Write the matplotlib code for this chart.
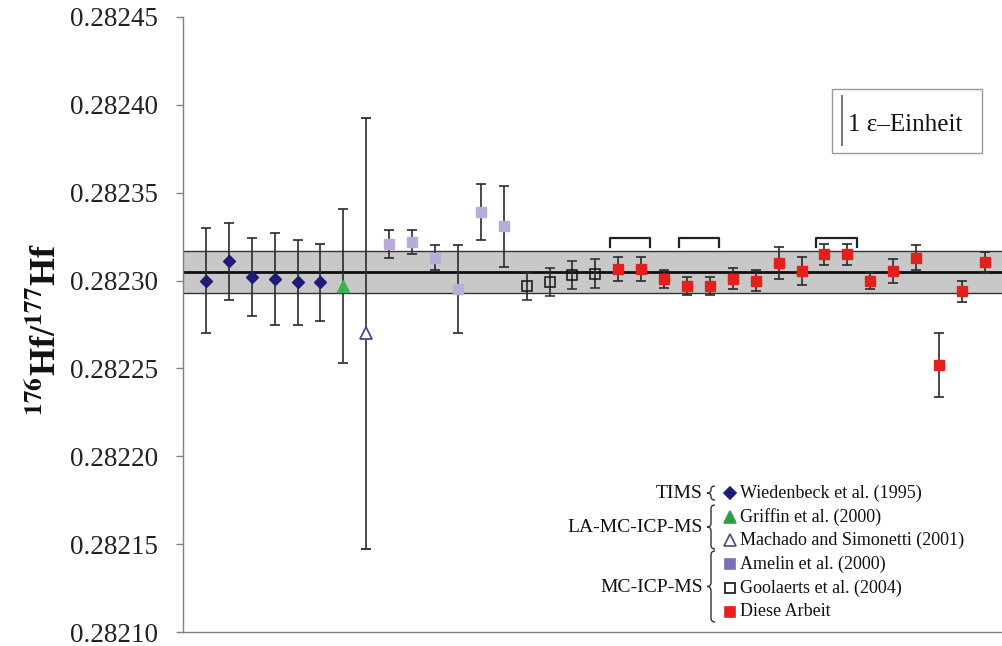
import numpy as np
import matplotlib
matplotlib.use("Agg")
import matplotlib.pyplot as plt
from matplotlib.path import Path
from matplotlib.patches import PathPatch, Rectangle
from matplotlib.lines import Line2D
from matplotlib.transforms import Affine2D

plt.rcParams['font.family'] = ['Liberation Serif', 'DejaVu Serif']
plt.rcParams['mathtext.fontset'] = 'stix'

# data
wied_y = [0.282300, 0.282311, 0.282302, 0.282301, 0.282299, 0.282299]
wied_err = [0.000030, 0.000022, 0.000022, 0.000026, 0.000024, 0.000022]
griffin_y = [0.282297]
griffin_err = [0.000044]
machado_y = [0.282270]
machado_err = [0.0001225]
amelin_y = [0.282321, 0.282322, 0.282313, 0.282295, 0.282339, 0.282331]
amelin_err = [0.000008, 0.000007, 0.000007, 0.000025, 0.000016, 0.000023]
goolaerts_y = [0.282297, 0.282299, 0.282303, 0.282304]
goolaerts_err = [0.000008, 0.000008, 0.000008, 0.000008]
diese_y = [0.2823065, 0.2823065, 0.282301, 0.282297, 0.282297, 0.282301,
           0.282300, 0.282310, 0.2823055, 0.282315, 0.282315, 0.282300,
           0.2823055, 0.282313, 0.282252, 0.282294, 0.2823105]
diese_err = [0.000007, 0.000007, 0.000005, 0.000005, 0.000005, 0.000006,
             0.000006, 0.000009, 0.000008, 0.000006, 0.000006, 0.000005,
             0.000007, 0.000007, 0.000018, 0.000006, 0.000006]

mean_val = 0.282305
band_lo = 0.282293
band_hi = 0.282317
bracket_pairs = [(0, 1), (3, 4), (9, 10)]
bracket_top = 0.2823245
bracket_leg = 0.2823193
eps_unit = mean_val * 1e-4
y_ticks = [0.28210, 0.28215, 0.28220, 0.28225, 0.28230, 0.28235, 0.28240, 0.28245]

W, H = 1002, 646
fig = plt.figure(figsize=(W / 100, H / 100), dpi=100)
ax = fig.add_axes([183 / W, 14 / H, 1 - 183 / W, (632 - 17) / H])
# pixel coords of the image -> figure
pix = Affine2D().scale(1 / W, -1 / H).translate(0, 1) + fig.transFigure

groups = [wied_y, griffin_y, machado_y, amelin_y, goolaerts_y, diese_y]
xs = []
start = 1
for g in groups:
    xs.append(np.arange(start, start + len(g)))
    start += len(g)
x_w, x_g, x_m, x_a, x_go, x_d = xs

ax.set_xlim(0, 35.75)
ax.set_ylim(0.28210, 0.28245)

# mean and band
ax.axhspan(band_lo, band_hi, facecolor='#c8c8c8', edgecolor='none', zorder=0)
ax.axhline(band_lo, color='#333333', lw=1.0, zorder=1)
ax.axhline(band_hi, color='#333333', lw=1.0, zorder=1)
ax.axhline(mean_val, color='#111111', lw=2.0, zorder=1)

eb = dict(ls='none', ecolor='#2a2a2a', elinewidth=1.2, capsize=3.6, capthick=1.2, zorder=3)
ax.errorbar(x_w, wied_y, yerr=wied_err, marker='D', ms=6.5, mfc='#1f1b78', mec='#1f1b78', **eb)
ax.errorbar(x_g, griffin_y, yerr=griffin_err, marker='^', ms=8, mfc='#3db34a', mec='#3db34a', **eb)
ax.errorbar(x_m, machado_y, yerr=machado_err, marker='^', ms=8, mfc='white', mec='#4a4a88', mew=1.3, **eb)
ax.errorbar(x_a, amelin_y, yerr=amelin_err, marker='s', ms=7.5, mfc='#b9acd9', mec='#b9acd9', **eb)
ax.errorbar(x_go, goolaerts_y, yerr=goolaerts_err, marker='s', ms=7, mfc='none', mec='#111111', mew=1.1, **eb)
ax.errorbar(x_d, diese_y, yerr=diese_err, marker='s', ms=7, mfc='#e3201c', mec='#e3201c', **eb)

# brackets over repeated measurements
for i, j in bracket_pairs:
    xa, xb = x_d[i] - 0.35, x_d[j] + 0.4
    ax.plot([xa, xa, xb, xb], [bracket_leg, bracket_top, bracket_top, bracket_leg],
            color='#222222', lw=1.6, zorder=3)

# 1 epsilon scale box
ax.add_patch(Rectangle((832, 89), 150, 64, transform=pix, fill=False,
                       edgecolor='#9a9a9a', lw=1.0, clip_on=False))
ax.plot([28.75, 28.75], [0.282377, 0.282377 + eps_unit], color='#777777', lw=1.4)
fig.text(848 / W, 1 - 125 / H, '1 ε–Einheit', fontsize=18, va='center', ha='left', color='#111111')

# axes style
for s in ['top', 'right']:
    ax.spines[s].set_visible(False)
for s in ['left', 'bottom']:
    ax.spines[s].set_color('#808080')
    ax.spines[s].set_linewidth(1.0)
ax.set_xticks([])
ax.set_yticks(y_ticks)
ax.set_yticklabels(['%.5f' % t for t in y_ticks])
ax.tick_params(axis='y', direction='out', length=5, width=1, color='#808080',
               labelsize=19.5, pad=13, labelcolor='#222222')

fig.text(47 / W, 1 - 330 / H, r'$^{\mathbf{176}}$Hf/$^{\mathbf{177}}$Hf', rotation=90,
         fontsize=26, fontweight='bold', ha='center', va='center', color='#111111')

# legend built by hand
legend_rows = [
    ('D', '#1f1b78', '#1f1b78', 'Wiedenbeck et al. (1995)', 493, 6.5),
    ('^', '#2e9e45', '#2e9e45', 'Griffin et al. (2000)', 517, 8.5),
    ('^', 'white', '#4a4a88', 'Machado and Simonetti (2001)', 540, 8.5),
    ('s', '#7a6eb8', '#7a6eb8', 'Amelin et al. (2000)', 564, 7.5),
    ('s', 'white', '#111111', 'Goolaerts et al. (2004)', 588, 7.5),
    ('s', '#e3201c', '#e3201c', 'Diese Arbeit', 612, 7.5),
]
for mk, fc, ec, label, yy, ms in legend_rows:
    fig.add_artist(Line2D([730], [yy], transform=pix, marker=mk, ms=ms, mfc=fc, mec=ec,
                          mew=1.2, ls='none'))
    fig.text(740 / W, 1 - yy / H, label, fontsize=13, va='center', ha='left', color='#111111')

group_labels = [('TIMS', 493, 486, 500), ('LA-MC-ICP-MS', 528, 505, 549), ('MC-ICP-MS', 587, 551, 622)]


def brace(x0, y0, y1, w=8):
    ym = (y0 + y1) / 2
    xr, xc = x0 + w, x0 + w / 2
    r = min(4, (y1 - y0) / 4)
    verts = [(xr, y0), (xc, y0), (xc, y0 + r), (xc, ym - r), (xc, ym), (x0, ym),
             (xc, ym), (xc, ym + r), (xc, y1 - r), (xc, y1), (xr, y1)]
    codes = [Path.MOVETO, Path.CURVE3, Path.CURVE3, Path.LINETO, Path.CURVE3, Path.CURVE3,
             Path.CURVE3, Path.CURVE3, Path.LINETO, Path.CURVE3, Path.CURVE3]
    return PathPatch(Path(verts, codes), transform=pix, fill=False, lw=1.0, edgecolor='#333333')


for txt, yy, b0, b1 in group_labels:
    fig.text(703 / W, 1 - yy / H, txt, fontsize=14, va='center', ha='right', color='#111111')
    fig.add_artist(brace(707, b0, b1))

fig.savefig('out.png', dpi=100)
